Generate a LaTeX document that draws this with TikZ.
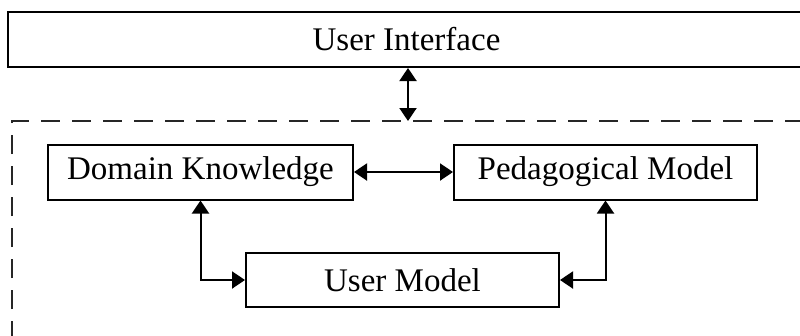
\documentclass[tikz,border=0pt]{standalone}
\usepackage{fontspec}
\setmainfont{Liberation Serif}
\usetikzlibrary{arrows.meta}
\begin{document}
\begin{tikzpicture}[x=1pt,y=-1pt,
  box/.style={draw=black,line width=2pt,fill=white,inner sep=0pt,font=\fontsize{33}{36}\selectfont},
  link/.style={line width=2pt,{Triangle[length=13pt,width=17pt]}-{Triangle[length=13pt,width=17pt]}},
  bound/.style={draw=black!85,line width=2.4pt,dash pattern=on 19pt off 12pt}]
\useasboundingbox (0,0) rectangle (800,335);
\clip (0,0) rectangle (800,335);
\fill[white] (0,0) rectangle (800,335);
% dashed system boundary
\draw[bound] (12,340) -- (12,121) -- (815,121);
\coordinate (sys) at (408,121);
% boxes
\node[box,minimum width=797pt,minimum height=55pt] (ui) at (406.5,39.5) {User Interface};
\node[box,minimum width=305pt,minimum height=55pt] (dk) at (200.5,172) {Domain Knowledge};
\node[box,minimum width=303pt,minimum height=55pt] (pm) at (605.5,172) {Pedagogical Model};
\node[box,minimum width=313pt,minimum height=54pt] (um) at (402.5,280) {User Model};
% connectors
\draw[link] (ui.south -| sys) -- (sys);
\draw[link] (dk.east) -- (pm.west);
\draw[link] (dk.south) |- (um.west);
\draw[link] (pm.south) |- (um.east);
\end{tikzpicture}
\end{document}
